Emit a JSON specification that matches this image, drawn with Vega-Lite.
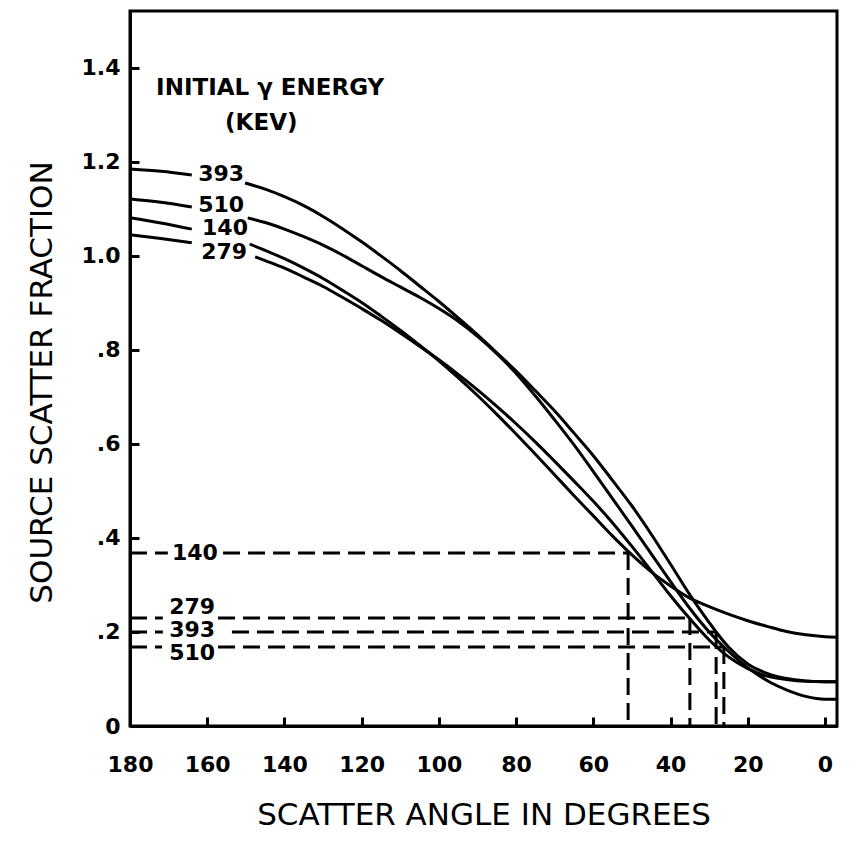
{
  "$schema": "https://vega.github.io/schema/vega-lite/v6.json",
  "width": 707,
  "height": 715,
  "autosize": {"type": "none"},
  "padding": {"left": 130, "top": 11, "right": 12, "bottom": 118},
  "background": "white",
  "config": {
    "view": {"stroke": "black", "strokeWidth": 3},
    "axis": {
      "grid": false,
      "domainColor": "black",
      "domainWidth": 3,
      "tickColor": "black",
      "tickWidth": 3,
      "tickSize": -9,
      "labelColor": "black",
      "titleColor": "black",
      "labelFont": "DejaVu Sans",
      "labelFontWeight": "bold",
      "labelFontSize": 22,
      "titleFont": "DejaVu Sans",
      "titleFontWeight": "normal",
      "titleFontSize": 31
    }
  },
  "datasets": {
    "curves": [
      {"part": "393a", "angle": 180, "value": 1.185},
      {"part": "393a", "angle": 172, "value": 1.18},
      {"part": "393a", "angle": 164, "value": 1.172},
      {"part": "393b", "angle": 150.2, "value": 1.155},
      {"part": "393b", "angle": 145, "value": 1.142},
      {"part": "393b", "angle": 140, "value": 1.126},
      {"part": "393b", "angle": 135, "value": 1.107},
      {"part": "393b", "angle": 130, "value": 1.084},
      {"part": "393b", "angle": 125, "value": 1.058},
      {"part": "393b", "angle": 120, "value": 1.03},
      {"part": "393b", "angle": 115, "value": 1.0},
      {"part": "393b", "angle": 110, "value": 0.969},
      {"part": "393b", "angle": 105, "value": 0.936},
      {"part": "393b", "angle": 100, "value": 0.903},
      {"part": "393b", "angle": 95, "value": 0.868},
      {"part": "393b", "angle": 90, "value": 0.832},
      {"part": "393b", "angle": 85, "value": 0.794},
      {"part": "393b", "angle": 80, "value": 0.755},
      {"part": "393b", "angle": 75, "value": 0.713},
      {"part": "393b", "angle": 70, "value": 0.67},
      {"part": "393b", "angle": 65, "value": 0.623},
      {"part": "393b", "angle": 60, "value": 0.575},
      {"part": "393b", "angle": 55, "value": 0.522},
      {"part": "393b", "angle": 50, "value": 0.468},
      {"part": "393b", "angle": 45, "value": 0.408},
      {"part": "393b", "angle": 40, "value": 0.344},
      {"part": "393b", "angle": 35, "value": 0.279},
      {"part": "393b", "angle": 30, "value": 0.22},
      {"part": "393b", "angle": 28.2, "value": 0.2},
      {"part": "393b", "angle": 25, "value": 0.168},
      {"part": "393b", "angle": 20, "value": 0.132},
      {"part": "393b", "angle": 15, "value": 0.112},
      {"part": "393b", "angle": 10, "value": 0.101},
      {"part": "393b", "angle": 5, "value": 0.096},
      {"part": "393b", "angle": 0, "value": 0.094},
      {"part": "393b", "angle": -3.1, "value": 0.094},

      {"part": "510a", "angle": 180, "value": 1.121},
      {"part": "510a", "angle": 172, "value": 1.114},
      {"part": "510a", "angle": 164, "value": 1.104},
      {"part": "510b", "angle": 149.5, "value": 1.081},
      {"part": "510b", "angle": 145, "value": 1.071},
      {"part": "510b", "angle": 140, "value": 1.057},
      {"part": "510b", "angle": 135, "value": 1.041},
      {"part": "510b", "angle": 130, "value": 1.023},
      {"part": "510b", "angle": 125, "value": 1.002},
      {"part": "510b", "angle": 120, "value": 0.979},
      {"part": "510b", "angle": 115, "value": 0.956},
      {"part": "510b", "angle": 110, "value": 0.934},
      {"part": "510b", "angle": 105, "value": 0.912},
      {"part": "510b", "angle": 100, "value": 0.888},
      {"part": "510b", "angle": 95, "value": 0.861},
      {"part": "510b", "angle": 90, "value": 0.829},
      {"part": "510b", "angle": 85, "value": 0.792},
      {"part": "510b", "angle": 80, "value": 0.75},
      {"part": "510b", "angle": 75, "value": 0.702},
      {"part": "510b", "angle": 70, "value": 0.651},
      {"part": "510b", "angle": 65, "value": 0.598},
      {"part": "510b", "angle": 60, "value": 0.541},
      {"part": "510b", "angle": 55, "value": 0.483},
      {"part": "510b", "angle": 50, "value": 0.425},
      {"part": "510b", "angle": 45, "value": 0.366},
      {"part": "510b", "angle": 40, "value": 0.307},
      {"part": "510b", "angle": 35, "value": 0.25},
      {"part": "510b", "angle": 30, "value": 0.2},
      {"part": "510b", "angle": 26.2, "value": 0.168},
      {"part": "510b", "angle": 22, "value": 0.137},
      {"part": "510b", "angle": 18, "value": 0.112},
      {"part": "510b", "angle": 14, "value": 0.092},
      {"part": "510b", "angle": 10, "value": 0.077},
      {"part": "510b", "angle": 5, "value": 0.063},
      {"part": "510b", "angle": 0, "value": 0.057},
      {"part": "510b", "angle": -3.1, "value": 0.057},

      {"part": "140a", "angle": 180, "value": 1.081},
      {"part": "140a", "angle": 172, "value": 1.07},
      {"part": "140a", "angle": 164, "value": 1.057},
      {"part": "140b", "angle": 149, "value": 1.025},
      {"part": "140b", "angle": 145, "value": 1.012},
      {"part": "140b", "angle": 140, "value": 0.994},
      {"part": "140b", "angle": 135, "value": 0.974},
      {"part": "140b", "angle": 130, "value": 0.952},
      {"part": "140b", "angle": 125, "value": 0.927},
      {"part": "140b", "angle": 120, "value": 0.901},
      {"part": "140b", "angle": 115, "value": 0.872},
      {"part": "140b", "angle": 110, "value": 0.842},
      {"part": "140b", "angle": 105, "value": 0.81},
      {"part": "140b", "angle": 100, "value": 0.777},
      {"part": "140b", "angle": 95, "value": 0.741},
      {"part": "140b", "angle": 90, "value": 0.703},
      {"part": "140b", "angle": 85, "value": 0.663},
      {"part": "140b", "angle": 80, "value": 0.621},
      {"part": "140b", "angle": 75, "value": 0.578},
      {"part": "140b", "angle": 70, "value": 0.534},
      {"part": "140b", "angle": 65, "value": 0.49},
      {"part": "140b", "angle": 60, "value": 0.447},
      {"part": "140b", "angle": 55, "value": 0.404},
      {"part": "140b", "angle": 50, "value": 0.364},
      {"part": "140b", "angle": 45, "value": 0.328},
      {"part": "140b", "angle": 40, "value": 0.298},
      {"part": "140b", "angle": 35, "value": 0.272},
      {"part": "140b", "angle": 30, "value": 0.254},
      {"part": "140b", "angle": 25, "value": 0.238},
      {"part": "140b", "angle": 20, "value": 0.224},
      {"part": "140b", "angle": 15, "value": 0.212},
      {"part": "140b", "angle": 10, "value": 0.201},
      {"part": "140b", "angle": 5, "value": 0.194},
      {"part": "140b", "angle": 0, "value": 0.19},
      {"part": "140b", "angle": -3.1, "value": 0.189},

      {"part": "279a", "angle": 180, "value": 1.045},
      {"part": "279a", "angle": 172, "value": 1.037},
      {"part": "279a", "angle": 164, "value": 1.028},
      {"part": "279b", "angle": 147.6, "value": 0.998},
      {"part": "279b", "angle": 145, "value": 0.99},
      {"part": "279b", "angle": 140, "value": 0.974},
      {"part": "279b", "angle": 135, "value": 0.955},
      {"part": "279b", "angle": 130, "value": 0.935},
      {"part": "279b", "angle": 125, "value": 0.912},
      {"part": "279b", "angle": 120, "value": 0.888},
      {"part": "279b", "angle": 115, "value": 0.863},
      {"part": "279b", "angle": 110, "value": 0.836},
      {"part": "279b", "angle": 105, "value": 0.808},
      {"part": "279b", "angle": 100, "value": 0.779},
      {"part": "279b", "angle": 95, "value": 0.748},
      {"part": "279b", "angle": 90, "value": 0.715},
      {"part": "279b", "angle": 85, "value": 0.68},
      {"part": "279b", "angle": 80, "value": 0.643},
      {"part": "279b", "angle": 75, "value": 0.604},
      {"part": "279b", "angle": 70, "value": 0.563},
      {"part": "279b", "angle": 65, "value": 0.521},
      {"part": "279b", "angle": 60, "value": 0.478},
      {"part": "279b", "angle": 55, "value": 0.432},
      {"part": "279b", "angle": 50, "value": 0.382},
      {"part": "279b", "angle": 45, "value": 0.33},
      {"part": "279b", "angle": 40, "value": 0.277},
      {"part": "279b", "angle": 35, "value": 0.228},
      {"part": "279b", "angle": 30, "value": 0.183},
      {"part": "279b", "angle": 25, "value": 0.147},
      {"part": "279b", "angle": 20, "value": 0.122},
      {"part": "279b", "angle": 15, "value": 0.106},
      {"part": "279b", "angle": 10, "value": 0.099},
      {"part": "279b", "angle": 5, "value": 0.095},
      {"part": "279b", "angle": 0, "value": 0.094},
      {"part": "279b", "angle": -3.1, "value": 0.094}
    ],
    "refs": [
      {"angle": 180, "angle2": 170.2, "value": 0.368, "value2": 0.368},
      {"angle": 155.9, "angle2": 51, "value": 0.368, "value2": 0.368},
      {"angle": 51, "angle2": 51, "value": 0.368, "value2": 0},
      {"angle": 180, "angle2": 171.5, "value": 0.23, "value2": 0.23},
      {"angle": 157.2, "angle2": 35, "value": 0.23, "value2": 0.23},
      {"angle": 35, "angle2": 35, "value": 0.23, "value2": 0},
      {"angle": 180, "angle2": 171.5, "value": 0.2, "value2": 0.2},
      {"angle": 153.6, "angle2": 28.2, "value": 0.2, "value2": 0.2},
      {"angle": 28.2, "angle2": 28.2, "value": 0.2, "value2": 0},
      {"angle": 180, "angle2": 171.7, "value": 0.168, "value2": 0.168},
      {"angle": 157.2, "angle2": 26.2, "value": 0.168, "value2": 0.168},
      {"angle": 26.2, "angle2": 26.2, "value": 0.168, "value2": 0}
    ],
    "numlabels": [
      {"angle": 156.4, "value": 1.174, "label": "393"},
      {"angle": 156.4, "value": 1.108, "label": "510"},
      {"angle": 155.4, "value": 1.06, "label": "140"},
      {"angle": 155.6, "value": 1.009, "label": "279"},
      {"angle": 163.2, "value": 0.368, "label": "140"},
      {"angle": 163.9, "value": 0.253, "label": "279"},
      {"angle": 163.9, "value": 0.204, "label": "393"},
      {"angle": 163.9, "value": 0.155, "label": "510"}
    ],
    "header": [
      {"angle": 143.7, "value": 1.357, "label": "INITIAL γ ENERGY"},
      {"angle": 146, "value": 1.283, "label": "(KEV)"}
    ]
  },
  "encoding": {
    "x": {
      "field": "angle",
      "type": "quantitative",
      "scale": {"domain": [-3.1, 180], "reverse": true, "nice": false, "zero": false},
      "axis": {
        "title": "SCATTER ANGLE IN DEGREES",
        "values": [180, 160, 140, 120, 100, 80, 60, 40, 20, 0],
        "labelPadding": 37,
        "labelFlush": false,
        "titleY": 89,
        "titleBaseline": "middle"
      }
    },
    "y": {
      "field": "value",
      "type": "quantitative",
      "scale": {"domain": [0, 1.521], "nice": false},
      "axis": {
        "title": "SOURCE SCATTER FRACTION",
        "values": [0, 0.2, 0.4, 0.6, 0.8, 1.0, 1.2, 1.4],
        "labelExpr": "datum.value == 0 ? '0' : (datum.value >= 1 ? format(datum.value, '.1f') : replace(format(datum.value, '.1f'), '0.', '.'))",
        "labelPadding": 19,
        "labelFlush": false,
        "titleX": -88,
        "titleY": 371,
        "titleBaseline": "middle",
        "titleAlign": "center",
        "titleAngle": 270
      }
    }
  },
  "layer": [
    {
      "data": {"name": "curves"},
      "mark": {"type": "line", "color": "black", "strokeWidth": 3, "interpolate": "monotone"},
      "encoding": {"detail": {"field": "part", "type": "nominal"}}
    },
    {
      "data": {"name": "refs"},
      "mark": {"type": "rule", "color": "black", "strokeWidth": 3, "strokeDash": [17, 8]},
      "encoding": {
        "x2": {"field": "angle2"},
        "y2": {"field": "value2"}
      }
    },
    {
      "data": {"name": "numlabels"},
      "mark": {"type": "text", "font": "DejaVu Sans", "fontWeight": "bold", "fontSize": 22, "color": "black", "align": "center", "baseline": "middle"},
      "encoding": {"text": {"field": "label", "type": "nominal"}}
    },
    {
      "data": {"name": "header"},
      "mark": {"type": "text", "font": "DejaVu Sans", "fontWeight": "bold", "fontSize": 23, "color": "black", "align": "center", "baseline": "middle"},
      "encoding": {"text": {"field": "label", "type": "nominal"}}
    }
  ]
}
